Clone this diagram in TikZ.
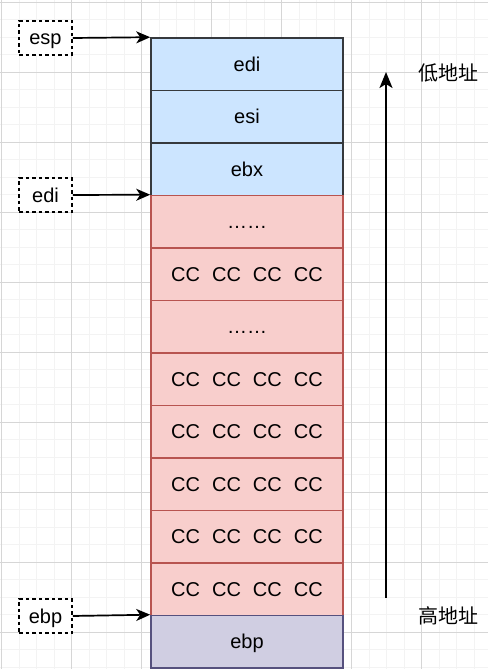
\documentclass[tikz,border=0pt]{standalone}
\usepackage{fontspec}
\setmainfont{Liberation Sans}
\newfontfamily\cjk{Noto Sans CJK SC}
\usetikzlibrary{arrows.meta}

\definecolor{gridmajor}{HTML}{D6D6D6}
\definecolor{gridminor}{HTML}{F3F3F3}
\definecolor{bluefill}{HTML}{CCE5FF}
\definecolor{bluedraw}{HTML}{36393D}
\definecolor{redfill}{HTML}{F8CECC}
\definecolor{reddraw}{HTML}{B85450}
\definecolor{purplefill}{HTML}{D0CEE2}
\definecolor{purpledraw}{HTML}{56517E}

\newcommand{\labelfont}{\fontsize{20}{20}\selectfont}
\newcommand{\ccline}{CC\hspace{12pt}CC\hspace{12pt}CC\hspace{12pt}CC}

\tikzset{
  cell/.style={rectangle, draw, line width=1.6pt, minimum width=192pt, minimum height=52.5pt,
    inner sep=0pt, text height=15pt, text depth=1pt, font=\labelfont},
  bluecell/.style={fill=bluefill, draw=bluedraw},
  redcell/.style={fill=redfill, draw=reddraw},
  purplecell/.style={fill=purplefill, draw=purpledraw},
  regbox/.style={rectangle, draw, dashed, dash pattern=on 3.5pt off 3pt, line width=1.6pt,
    fill=white, minimum width=53pt, minimum height=34pt, inner sep=0pt,
    text height=15pt, text depth=1pt, font=\labelfont},
  pointer/.style={-{Stealth[length=14pt, width=12pt, inset=4pt]}, line width=1.7pt},
  addr/.style={font=\cjk\labelfont, inner sep=0pt}
}

\begin{document}
\begin{tikzpicture}[x=1pt, y=-1pt]

\useasboundingbox (0,0) rectangle (488,669);
\fill[white] (0,0) rectangle (488,669);

% background grid
\foreach \g in {0,...,27} \draw[gridminor, line width=0.8pt] ({1.5+17.5*\g},0) -- ({1.5+17.5*\g},669);
\foreach \g in {0,...,38} \draw[gridminor, line width=0.8pt] (0,{2+17.5*\g}) -- (488,{2+17.5*\g});
\foreach \g in {0,...,6} \draw[gridmajor, line width=0.8pt] ({1.5+70*\g},0) -- ({1.5+70*\g},669);
\foreach \g in {0,...,9} \draw[gridmajor, line width=0.8pt] (0,{2+70*\g}) -- (488,{2+70*\g});

% stack cells
\foreach \txt/\sty [count=\i from 0] in {edi/bluecell, esi/bluecell, ebx/bluecell, ……/redcell,
    \ccline/redcell, ……/redcell, \ccline/redcell, \ccline/redcell, \ccline/redcell,
    \ccline/redcell, \ccline/redcell, ebp/purplecell} {
  \node[cell, \sty] (r\i) at (247, {38+52.5*(\i+0.5)}) {\txt};
}

% register pointers
\node[regbox] (esp) at (45.5, 38) {esp};
\node[regbox] (edi) at (45.5, 195) {edi};
\node[regbox] (ebp) at (45.5, 616) {ebp};

\draw[pointer] (esp.east) -- (r0.north west);
\draw[pointer] (edi.east) -- (r3.north west);
\draw[pointer] (ebp.east) -- (r11.north west);

% address direction
\coordinate (high) at (386, 598);
\coordinate (low) at (386, 72);
\draw[pointer, -{Stealth[length=16pt, width=13pt, inset=4pt]}, line width=2pt] (high) -- (low);

\node[addr] (lowaddr) at (448, 73) {低地址};
\node[addr] (highaddr) at (448, 616) {高地址};

\end{tikzpicture}
\end{document}
